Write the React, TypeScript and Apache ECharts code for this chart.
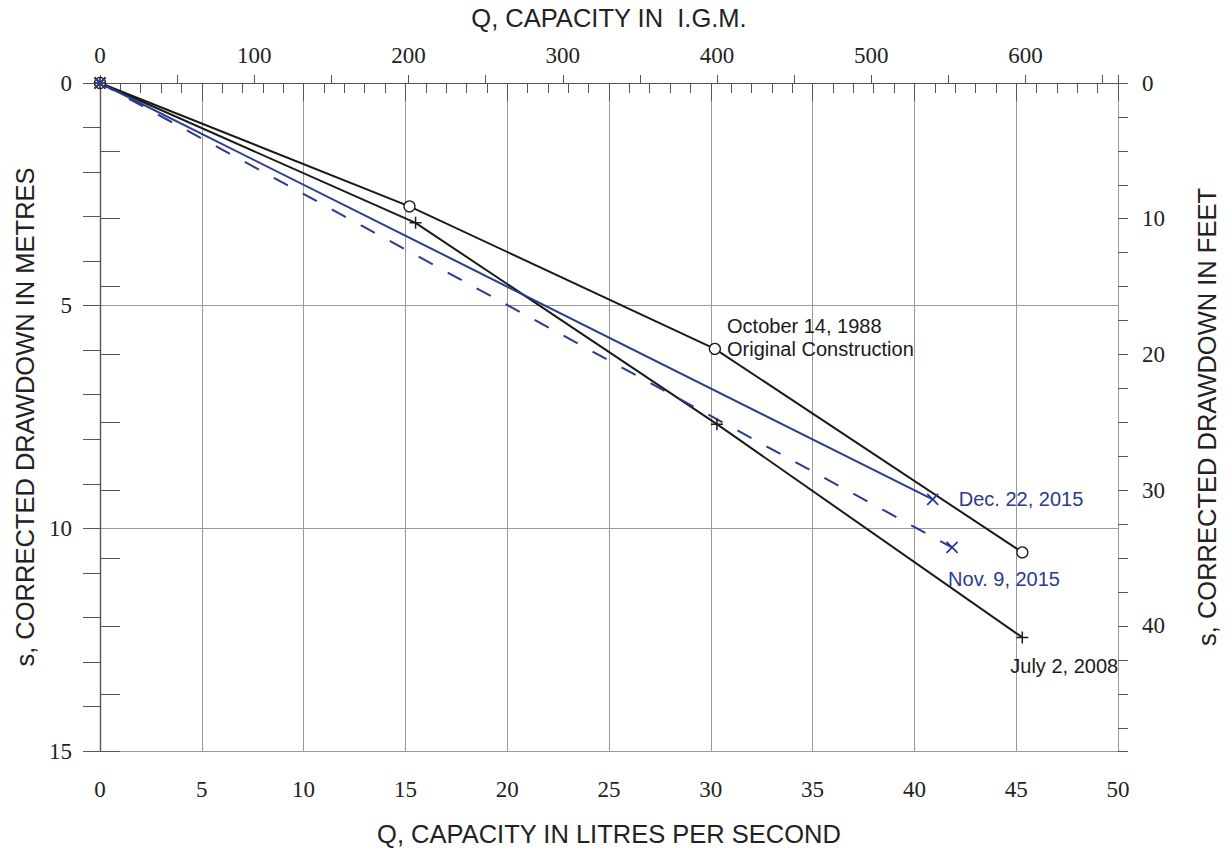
import React, { useEffect, useRef } from "react";
import * as echarts from "echarts";

// ---- data ----
// Q in litres per second, s in metres
const octQ = [0, 15.2, 30.2, 45.3];
const octS = [0, 2.77, 5.97, 10.54];
const julQ = [0, 15.5, 30.3, 45.3];
const julS = [0, 3.14, 7.66, 12.45];
const decQ = [0, 40.9];
const decS = [0, 9.35];
const novQ = [0, 41.85];
const novS = [0, 10.43];

const octLabel = "October 14, 1988\nOriginal Construction";
const julLabel = "July 2, 2008";
const decLabel = "Dec. 22, 2015";
const novLabel = "Nov. 9, 2015";

const bottomTitle = "Q, CAPACITY IN LITRES PER SECOND";
const topTitle = "Q, CAPACITY IN  I.G.M.";
const leftTitle = "s, CORRECTED DRAWDOWN IN METRES";
const rightTitle = "s, CORRECTED DRAWDOWN IN FEET";

const LPS_MAX = 50;
const IGM_PER_LPS = 13.198;
const S_MAX = 15;
const FT_PER_M = 3.28084;

const BLACK = "#1a1a1a";
const BLUE = "#2b3990";
const GRID = "#9a9a9a";
const AXIS = "#555555";
const SERIF = "'Liberation Serif', 'DejaVu Serif', serif";
const SANS = "'Liberation Sans Narrow', 'Liberation Sans', Arial, sans-serif";
const SANS_ANN = "'Liberation Sans', Arial, sans-serif";

const PLUS = "path://M5,0L5,10M0,5L10,5";
const CROSS = "path://M0,0L10,10M10,0L0,10";

function pts(q: number[], s: number[]) {
  return q.map((v, i) => [v, s[i]]);
}

export default function App() {
  const ref = useRef<HTMLDivElement>(null);
  useEffect(() => {
    document.body.style.margin = "0";
    const chart = echarts.init(ref.current!, null, { renderer: "svg" });
    const tickLabel = { fontFamily: SERIF, fontSize: 23, color: "#222" };
    const nameStyle = { fontFamily: SANS, fontSize: 25.5, color: "#222" };

    const octData: any[] = pts(octQ, octS).map((p, i) =>
      i === 2
        ? {
            value: p,
            label: {
              show: true,
              position: "right",
              distance: 6,
              offset: [0, -11],
              formatter: octLabel,
              fontFamily: SANS_ANN,
              fontSize: 20,
              lineHeight: 23,
              color: BLACK,
            },
          }
        : p
    );
    const julData: any[] = pts(julQ, julS).map((p, i) =>
      i === 3
        ? {
            value: p,
            label: {
              show: true,
              position: "bottom",
              align: "left",
              distance: 10,
              offset: [-12, 0],
              formatter: julLabel,
              fontFamily: SANS_ANN,
              fontSize: 20,
              color: BLACK,
            },
          }
        : p
    );
    const decData: any[] = pts(decQ, decS).map((p, i) =>
      i === 1
        ? {
            value: p,
            label: {
              show: true,
              position: "right",
              distance: 18,
              formatter: decLabel,
              fontFamily: SANS_ANN,
              fontSize: 20,
              color: BLUE,
            },
          }
        : p
    );
    const novData: any[] = pts(novQ, novS).map((p, i) =>
      i === 1
        ? {
            value: p,
            label: {
              show: true,
              position: "bottom",
              align: "left",
              distance: 14,
              offset: [-4, 0],
              formatter: novLabel,
              fontFamily: SANS_ANN,
              fontSize: 20,
              color: BLUE,
            },
          }
        : p
    );

    chart.setOption({
      animation: false,
      backgroundColor: "#ffffff",
      grid: { left: 100, right: 114, top: 74, bottom: 85, containLabel: false },
      xAxis: [
        {
          type: "value",
          position: "bottom",
          min: 0,
          max: LPS_MAX,
          interval: 5,
          name: bottomTitle,
          nameLocation: "middle",
          nameGap: 70,
          nameTextStyle: nameStyle,
          axisLine: { show: true, lineStyle: { color: AXIS, width: 1.2 } },
          axisTick: { show: true, length: 18, lineStyle: { color: AXIS } },
          minorTick: { show: true, splitNumber: 5, length: 10, lineStyle: { color: AXIS } },
          axisLabel: { ...tickLabel, margin: 27 },
          splitLine: { show: true, lineStyle: { color: GRID, width: 1 } },
        },
        {
          type: "value",
          position: "top",
          min: 0,
          max: LPS_MAX * IGM_PER_LPS,
          interval: 50,
          name: topTitle,
          nameLocation: "middle",
          nameGap: 52,
          nameTextStyle: nameStyle,
          axisLine: { show: true, lineStyle: { color: AXIS, width: 1.2 } },
          axisTick: { show: true, length: 8, lineStyle: { color: AXIS } },
          axisLabel: {
            ...tickLabel,
            margin: 16,
            formatter: (v: number) => (Math.abs(v % 100) < 1e-6 ? String(v) : ""),
          },
          splitLine: { show: false },
        },
      ],
      yAxis: [
        {
          type: "value",
          position: "left",
          inverse: true,
          min: 0,
          max: S_MAX,
          interval: 5,
          name: leftTitle,
          nameLocation: "middle",
          nameGap: 62,
          nameRotate: 90,
          nameTextStyle: nameStyle,
          axisLine: { show: true, lineStyle: { color: AXIS, width: 1.2 } },
          axisTick: { show: true, length: 17, lineStyle: { color: AXIS } },
          minorTick: { show: true, splitNumber: 5, length: 17, lineStyle: { color: AXIS } },
          axisLabel: { ...tickLabel, margin: 28 },
          splitLine: { show: true, lineStyle: { color: GRID, width: 1 } },
        },
        {
          type: "value",
          position: "right",
          inverse: true,
          min: 0,
          max: S_MAX * FT_PER_M,
          interval: 5,
          name: rightTitle,
          nameLocation: "middle",
          nameGap: 76,
          nameRotate: 90,
          nameTextStyle: nameStyle,
          axisLine: { show: true, lineStyle: { color: AXIS, width: 1.2 } },
          axisTick: { show: true, length: 20, lineStyle: { color: AXIS } },
          axisLabel: {
            ...tickLabel,
            margin: 24,
            formatter: (v: number) => (Math.abs(v % 10) < 1e-6 ? String(v) : ""),
          },
          splitLine: { show: false },
        },
        {
          type: "value",
          position: "right",
          inverse: true,
          min: 0,
          max: S_MAX * FT_PER_M,
          interval: 2.5,
          axisLine: { show: false },
          axisTick: { show: true, length: 10, lineStyle: { color: AXIS } },
          axisLabel: { show: false },
          splitLine: { show: false },
        },
      ],
      series: [
        {
          name: "October 14, 1988",
          type: "line",
          data: octData,
          symbol: "circle",
          symbolSize: 11,
          lineStyle: { color: BLACK, width: 2 },
          itemStyle: { color: "#ffffff", borderColor: BLACK, borderWidth: 1.3 },
          z: 3,
        },
        {
          name: "July 2, 2008",
          type: "line",
          data: julData,
          symbol: PLUS,
          symbolSize: 12,
          lineStyle: { color: BLACK, width: 2 },
          itemStyle: { color: "none", borderColor: BLACK, borderWidth: 1.5 },
          z: 3,
        },
        {
          name: "Dec. 22, 2015",
          type: "line",
          data: decData,
          symbol: CROSS,
          symbolSize: 11,
          lineStyle: { color: BLUE, width: 2 },
          itemStyle: { color: "none", borderColor: BLUE, borderWidth: 1.8 },
          z: 3,
        },
        {
          name: "Nov. 9, 2015",
          type: "line",
          data: novData,
          symbol: CROSS,
          symbolSize: 11,
          lineStyle: { color: BLUE, width: 2, type: [16, 17] },
          itemStyle: { color: "none", borderColor: BLUE, borderWidth: 1.8 },
          z: 3,
        },
      ],
    });
    return () => chart.dispose();
  }, []);
  return (
    <div
      ref={ref}
      style={{ position: "fixed", left: 0, top: 0, width: 1232, height: 852, background: "#fff" }}
    />
  );
}
